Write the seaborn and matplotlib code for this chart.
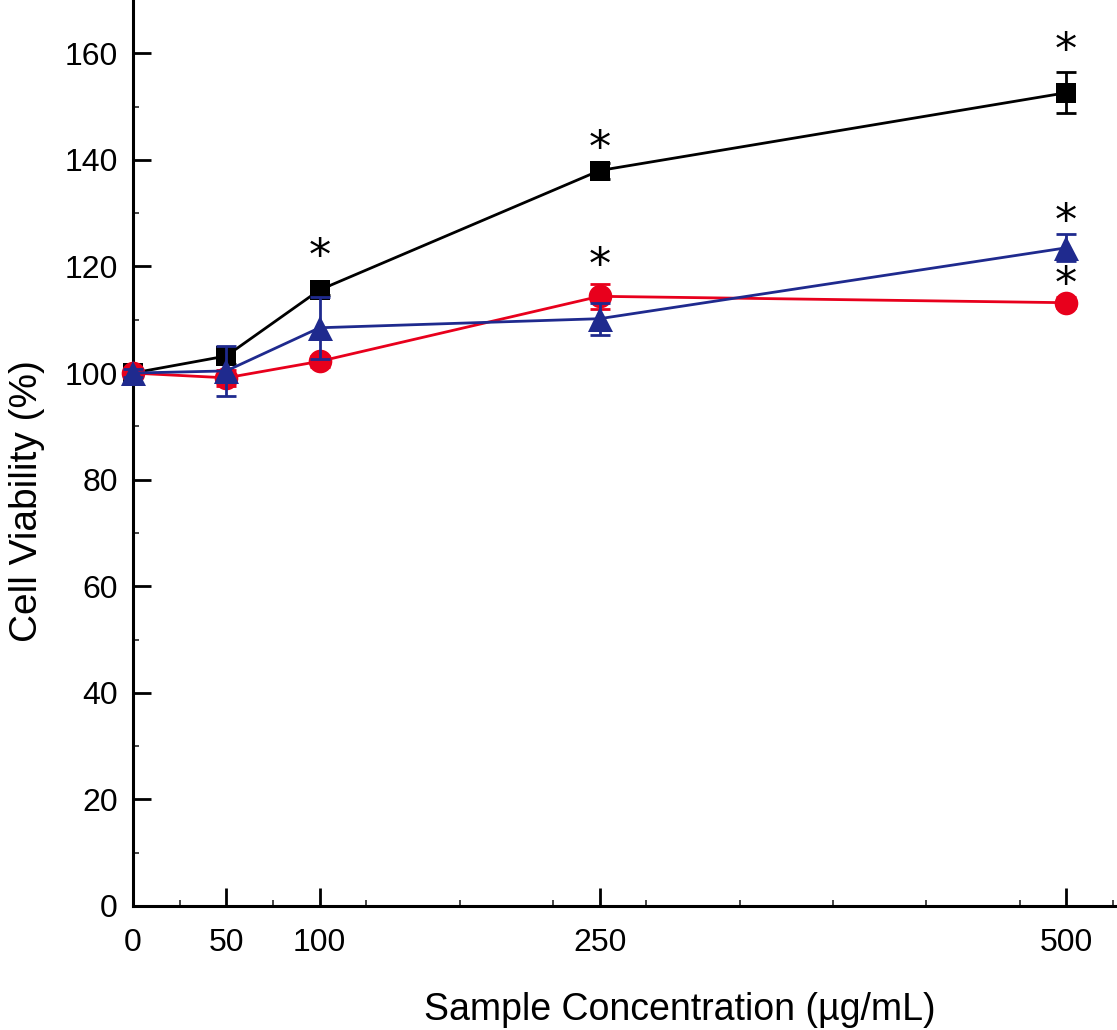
import numpy as np
import matplotlib
matplotlib.use("Agg")
import matplotlib.pyplot as plt
import seaborn as sns
from matplotlib.ticker import FixedLocator

# ---- data ----
conc = [0, 50, 100, 250, 500]
tick_labels = ["0", "50", "100", "250", "500"]

black_vals = [100.0, 103.2, 115.6, 138.0, 152.6]
black_err = [0.8, 1.5, 1.0, 1.5, 3.8]

red_vals = [100.0, 99.1, 102.2, 114.4, 113.2]
red_err = [0.8, 1.5, 1.0, 2.4, 1.0]

blue_vals = [100.0, 100.4, 108.5, 110.2, 123.5]
blue_err = [0.8, 4.7, 5.8, 3.0, 2.5]

# significance asterisks (x, y in data units)
star_x = [100, 250, 250, 500, 500, 500]
star_y = [121.6, 142.0, 120.0, 160.4, 128.2, 116.4]

# ---- style ----
sns.set_theme(style="ticks")
plt.rcParams["font.family"] = ["Liberation Sans", "DejaVu Sans"]
plt.rcParams["text.color"] = "black"
plt.rcParams["axes.labelcolor"] = "black"

fig = plt.figure(figsize=(11.17, 10.30), dpi=100)
ax = fig.add_axes([0.119, 0.1204, 0.879, 0.8796])

series = [
    (black_vals, black_err, "#000000", "s", 15),
    (red_vals, red_err, "#E8001C", "o", 17),
    (blue_vals, blue_err, "#1F2A8E", "^", 18),
]

z = 3
for vals, err, col, mk, ms in series:
    sns.lineplot(x=conc, y=vals, color=col, marker=mk, markersize=ms,
                 markeredgewidth=0, linewidth=2.0, ax=ax, zorder=z,
                 clip_on=False)
    eb = ax.errorbar(conc, vals, yerr=err, fmt="none", ecolor=col, elinewidth=2.0,
                     capsize=7, capthick=2.0, zorder=z + 0.5)
    for child in eb.get_children():
        child.set_clip_on(False)
    z += 1

for sx, sy in zip(star_x, star_y):
    ax.text(sx, sy, "*", ha="center", va="center", fontsize=32,
            family="DejaVu Sans", color="black", zorder=10)

ax.set_xlim(0, 526)
ax.set_ylim(0, 170)
ax.set_xticks(conc)
ax.set_xticklabels(tick_labels)
ax.xaxis.set_minor_locator(FixedLocator(np.arange(25, 526, 50)))
ax.set_yticks(np.arange(0, 161, 20))
ax.yaxis.set_minor_locator(FixedLocator(np.arange(10, 170, 20)))

ax.tick_params(which="major", direction="in", length=13, width=2, labelsize=23,
               colors="black", labelcolor="black", pad=16)
ax.tick_params(which="minor", direction="in", length=4, width=1.2)
ax.tick_params(axis="y", pad=11)

for s in ["top", "right"]:
    ax.spines[s].set_visible(False)
for s in ["left", "bottom"]:
    ax.spines[s].set_linewidth(2.2)
    ax.spines[s].set_color("black")
    ax.spines[s].set_zorder(2)

ax.set_xlabel("Sample Concentration (µg/mL)", fontsize=27, labelpad=24, color="black")
ax.set_ylabel("Cell Viability (%)", fontsize=28, labelpad=14, color="black")
ax.xaxis.label.set_x(0.557)
ax.yaxis.label.set_y(0.447)

fig.savefig("out.png", dpi=100, facecolor="white")
